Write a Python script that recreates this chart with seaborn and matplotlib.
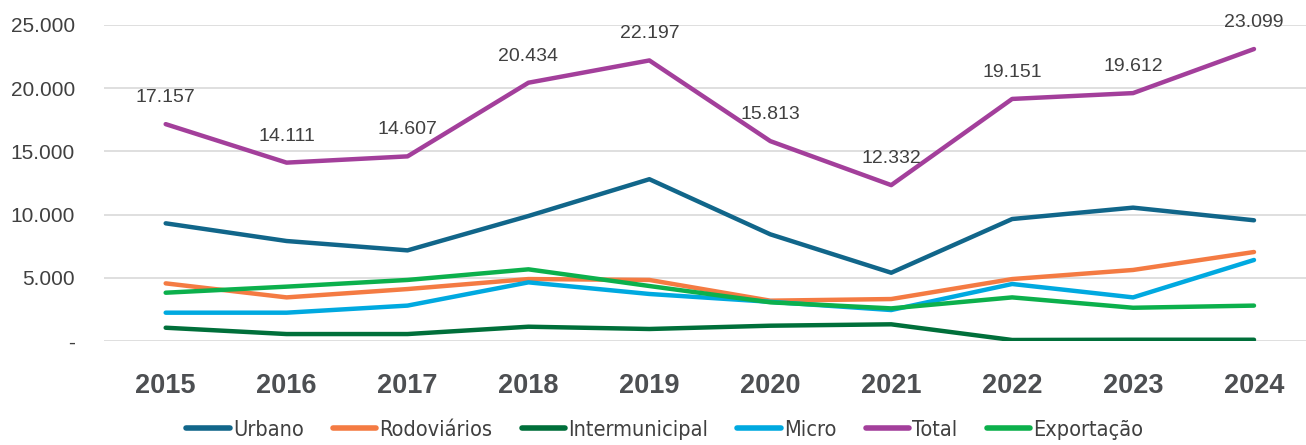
import matplotlib
matplotlib.use("Agg")
import matplotlib.pyplot as plt
import matplotlib.ticker as mticker
import seaborn as sns
import pandas as pd

years = [2015, 2016, 2017, 2018, 2019, 2020, 2021, 2022, 2023, 2024]
urbano = [9310, 7910, 7170, 9890, 12800, 8440, 5400, 9650, 10550, 9550]
rodoviarios = [4560, 3450, 4110, 4900, 4830, 3190, 3320, 4900, 5620, 7040]
intermunicipal = [1050, 550, 550, 1130, 950, 1210, 1320, 80, 100, 100]
micro = [2240, 2240, 2800, 4640, 3720, 3100, 2450, 4510, 3450, 6410]
total = [17157, 14111, 14607, 20434, 22197, 15813, 12332, 19151, 19612, 23099]
exportacao = [3820, 4300, 4830, 5670, 4350, 3060, 2580, 3450, 2630, 2800]

series_names = ["Urbano", "Rodoviários", "Intermunicipal", "Micro", "Total", "Exportação"]
series_values = [urbano, rodoviarios, intermunicipal, micro, total, exportacao]
colors = ["#11668A", "#F47B43", "#006F3A", "#00A9E0", "#A33F9B", "#0CB04C"]

rows = []
for name, vals in zip(series_names, series_values):
    for y, v in zip(years, vals):
        rows.append({"Ano": y, "Valor": v, "Série": name})
df = pd.DataFrame(rows)

sns.set_theme(style="white")
plt.rcParams["font.family"] = ["Liberation Sans", "DejaVu Sans"]

fig = plt.figure(figsize=(13.06, 4.45), dpi=100)
ax = fig.add_axes([104 / 1306, 1 - 341 / 445, 1 - 104 / 1306, (341 - 25) / 445])

sns.lineplot(data=df, x="Ano", y="Valor", hue="Série", hue_order=series_names,
             palette=colors, linewidth=3.2, ax=ax, legend=False,
             solid_capstyle="round")

ax.set_ylim(0, 25000)
ax.set_xlim(years[0] - 0.51, years[-1] + 0.43)
ax.yaxis.set_major_locator(mticker.MultipleLocator(5000))


def fmt(v, pos=None):
    if v == 0:
        return "-"
    return f"{int(round(v)):,}".replace(",", ".")


ax.yaxis.set_major_formatter(mticker.FuncFormatter(fmt))
ax.set_xticks(years)
ax.set_xticklabels([str(y) for y in years], fontsize=19.5, fontweight="bold", color="#4d4f52")
ax.tick_params(axis="y", labelsize=15, colors="#404040", length=0, pad=21)
ax.tick_params(axis="x", length=0, pad=23)
ax.grid(axis="y", color="#d9d9d9", linewidth=1.2)
ax.set_axisbelow(True)
for s in ax.spines.values():
    s.set_visible(False)
ax.set_xlabel("")
ax.set_ylabel("")

for y, v in zip(years, total):
    ax.annotate(fmt(v), (y, v), xytext=(0, 13), textcoords="offset points",
                ha="center", va="bottom", fontsize=14, color="#404040",
                annotation_clip=False)

handles = [plt.Line2D([0], [0], color=c, linewidth=4, solid_capstyle="round") for c in colors]
leg = fig.legend(handles, series_names, loc="lower center", ncol=6,
                 bbox_to_anchor=(0.509, -0.032), frameon=False, handlelength=2.0,
                 handletextpad=0.15, columnspacing=1.35,
                 prop={"family": "DejaVu Sans", "stretch": "condensed", "size": 15.6})
for t in leg.get_texts():
    t.set_color("#404040")

fig.savefig("out.png", dpi=100)
